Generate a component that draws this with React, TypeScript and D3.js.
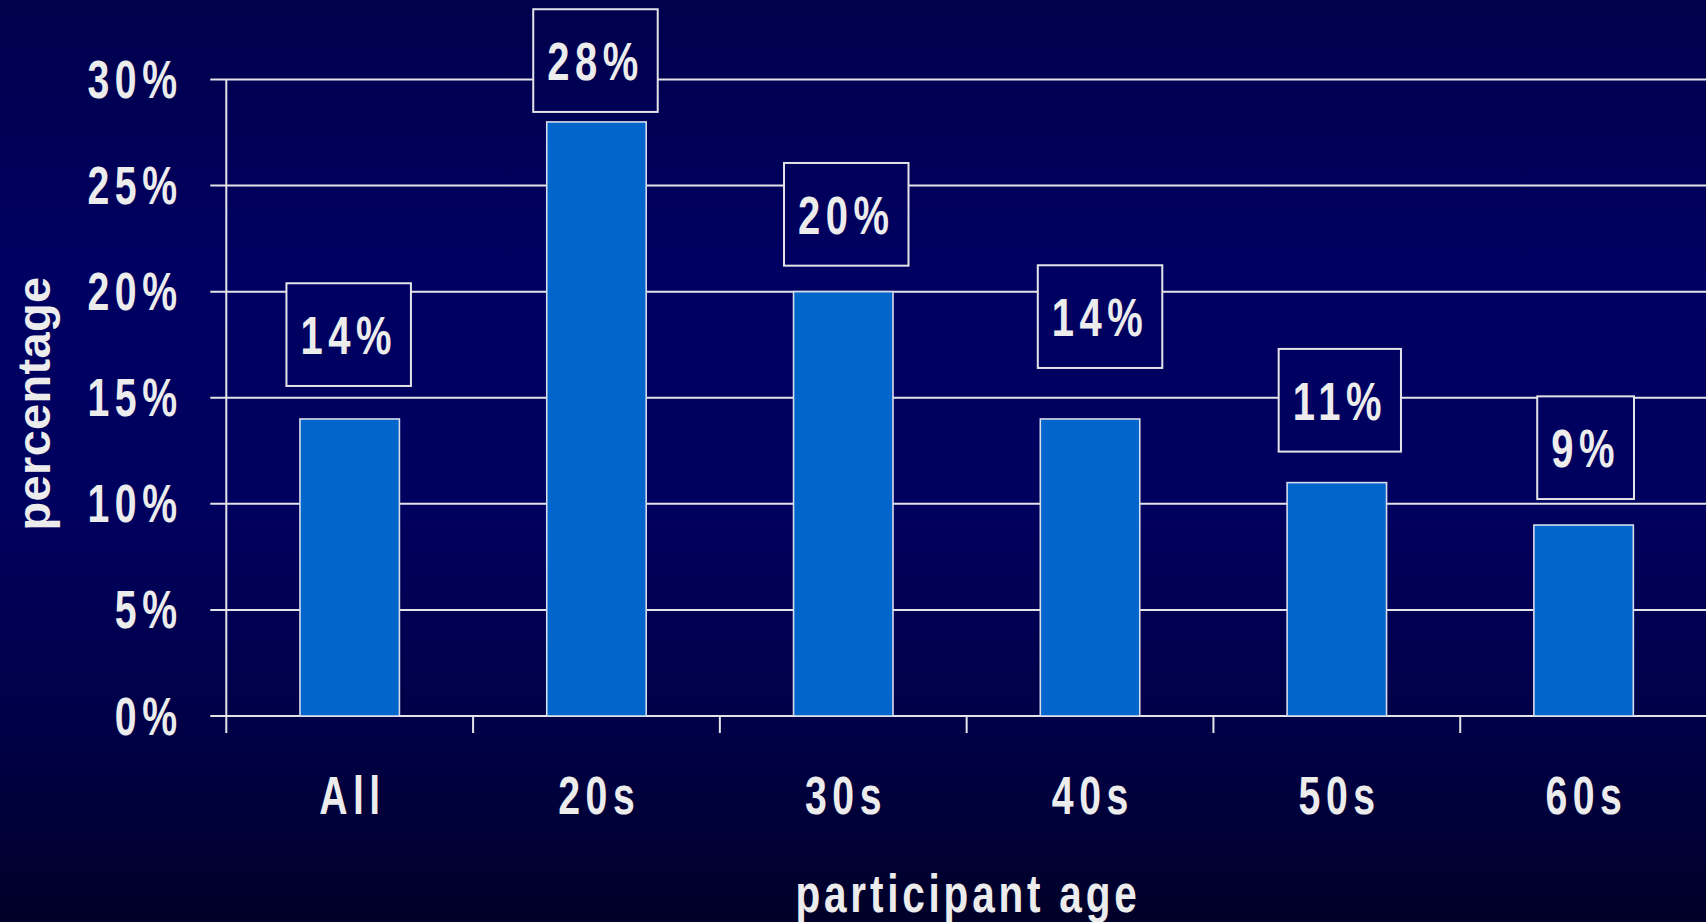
import React, { useEffect, useRef } from "react";
import * as d3 from "d3";

// Share of participants by age group
const categories = ["All", "20s", "30s", "40s", "50s", "60s"];
const percentages = [14, 28, 20, 14, 11, 9];
const yTicks = [0, 5, 10, 15, 20, 25, 30];

// Value-box placement: vertical gap (px) above each bar top, horizontal nudge (px)
const labelGaps = [33, 10, 26, 51, 31, 26];
const labelNudges = [-1, -1, 3, 10, 3, 2];

const W = 1706;
const H = 922;
const FONT = "'Liberation Sans', Arial, Helvetica, sans-serif";
const TEXT = "#ececec";
const LINE = "#e4e4e8";
const SQUEEZE = 0.74; // horizontal condensing of the bold face

export default function App() {
  const ref = useRef<SVGSVGElement | null>(null);

  useEffect(() => {
    const svg = d3.select(ref.current);
    svg.selectAll("*").remove();

    const defs = svg.append("defs");
    const grad = defs
      .append("linearGradient")
      .attr("id", "bg")
      .attr("gradientUnits", "userSpaceOnUse")
      .attr("x1", 0)
      .attr("y1", 0)
      .attr("x2", 0)
      .attr("y2", H);
    [
      [0, "#00004c"],
      [0.3, "#000062"],
      [0.55, "#00005e"],
      [0.8, "#000046"],
      [1, "#000028"],
    ].forEach(([o, c]) =>
      grad.append("stop").attr("offset", o as number).attr("stop-color", c as string)
    );

    svg.append("rect").attr("width", W).attr("height", H).attr("fill", "url(#bg)");

    const left = 226.3;
    const right = 1707;
    const x = d3
      .scaleBand<string>()
      .domain(categories)
      .range([left, right])
      .paddingInner(0.597)
      .paddingOuter(0.2985);
    const step = x.step();
    const bw = x.bandwidth();
    const y = d3.scaleLinear().domain([0, 30]).range([716, 79.5]);

    // horizontal gridlines with left tick marks
    svg
      .append("g")
      .selectAll("line")
      .data(yTicks)
      .join("line")
      .attr("x1", left - 16)
      .attr("x2", W)
      .attr("y1", (d) => y(d))
      .attr("y2", (d) => y(d))
      .attr("stroke", LINE)
      .attr("stroke-width", 2);

    // y axis line
    svg
      .append("line")
      .attr("x1", left)
      .attr("x2", left)
      .attr("y1", y(30))
      .attr("y2", y(0) + 17)
      .attr("stroke", LINE)
      .attr("stroke-width", 2);

    // x ticks at band boundaries
    svg
      .append("g")
      .selectAll("line")
      .data(categories.slice(1))
      .join("line")
      .attr("x1", (d) => (x(d) as number) + bw / 2 - step / 2)
      .attr("x2", (d) => (x(d) as number) + bw / 2 - step / 2)
      .attr("y1", y(0))
      .attr("y2", y(0) + 17)
      .attr("stroke", LINE)
      .attr("stroke-width", 2);

    // bars
    svg
      .append("g")
      .selectAll("rect")
      .data(percentages)
      .join("rect")
      .attr("x", (_, i) => x(categories[i]) as number)
      .attr("y", (d) => y(d))
      .attr("width", bw)
      .attr("height", (d) => y(0) - y(d))
      .attr("fill", "#0066cc")
      .attr("stroke", "#d8dcea")
      .attr("stroke-width", 1.6);

    const condensed = (
      g: d3.Selection<any, any, any, any>,
      tx: number,
      ty: number,
      str: string,
      size: number,
      anchor: string,
      spacing: number,
      squeeze = SQUEEZE,
      shift = 0
    ) => {
      const ls = spacing / squeeze;
      return g
        .append("text")
        .attr("transform", `translate(${tx},${ty}) scale(${squeeze},1)`)
        .attr("dx", shift * ls)
        .attr("text-anchor", anchor)
        .attr("font-family", FONT)
        .attr("font-weight", "bold")
        .attr("font-size", size)
        .attr("letter-spacing", ls)
        .attr("fill", TEXT)
        .text(str);
    };

    // y tick labels
    const yl = svg.append("g");
    yTicks.forEach((t) => condensed(yl, 177, y(t) + 18.5, `${t}%`, 53, "end", 5.5, SQUEEZE, 1));

    // x tick labels
    const xl = svg.append("g");
    categories.forEach((c) =>
      condensed(xl, (x(c) as number) + bw / 2, 814, c, 53, "middle", 5.5, SQUEEZE, 0.5)
    );

    // value boxes
    const boxH = 102.7;
    const lab = svg.append("g");
    percentages.forEach((v, i) => {
      const cx = (x(categories[i]) as number) + bw / 2 + labelNudges[i];
      const bottom = y(v) - labelGaps[i];
      const top = bottom - boxH;
      const g = lab.append("g");
      const rect = g.append("rect");
      const t = condensed(g, cx, top + boxH / 2 + 19.5, `${v}%`, 54, "middle", 5.5);
      const tw = (t.node() as SVGTextElement).getBBox().width * SQUEEZE;
      const bw2 = tw + 28;
      rect
        .attr("x", cx - bw2 / 2)
        .attr("y", top)
        .attr("width", bw2)
        .attr("height", boxH)
        .attr("fill", "url(#bg)")
        .attr("stroke", LINE)
        .attr("stroke-width", 2);
    });

    // axis titles
    condensed(svg, 968, 911.7, "participant age", 54, "middle", 3.8, 0.75);

    svg
      .append("text")
      .attr("transform", `translate(50,403.5) rotate(-90)`)
      .attr("text-anchor", "middle")
      .attr("font-family", FONT)
      .attr("font-weight", "bold")
      .attr("font-size", 47)
      .attr("letter-spacing", 0.3)
      .attr("fill", TEXT)
      .text("percentage");
  }, []);

  return (
    <svg
      ref={ref}
      width={W}
      height={H}
      style={{ position: "absolute", left: 0, top: 0, display: "block" }}
    />
  );
}
